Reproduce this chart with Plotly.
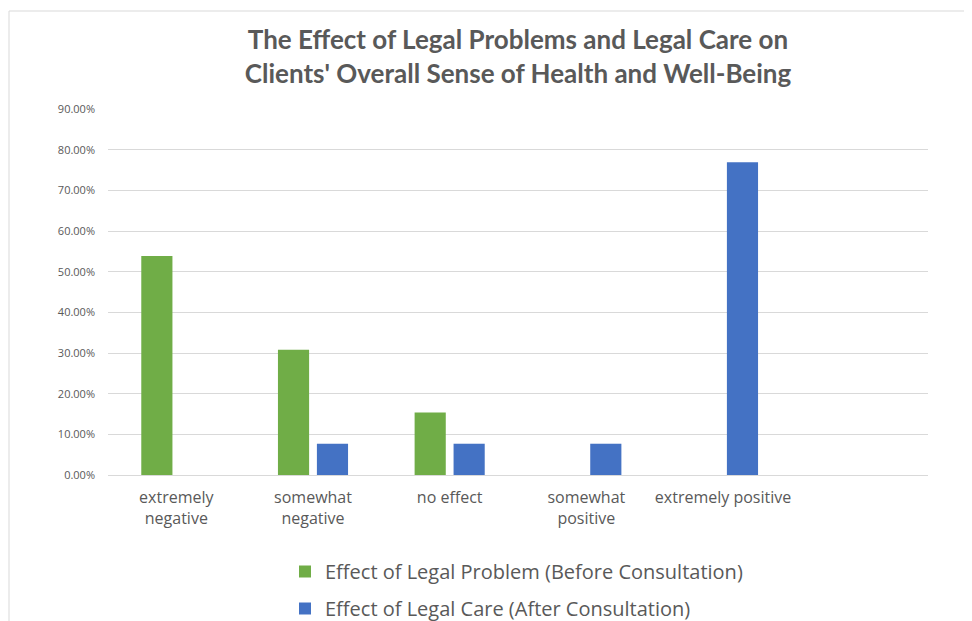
import plotly.graph_objects as go

categories = ["extremely<br>negative", "somewhat<br>negative", "no effect",
              "somewhat<br>positive", "extremely positive", ""]
before_vals = [0.5385, 0.3077, 0.1538, 0.0, 0.0, None]
after_vals = [0.0, 0.0769, 0.0769, 0.0769, 0.7692, None]
series_names = ["Effect of Legal Problem (Before Consultation)",
                "Effect of Legal Care (After Consultation)"]
y_ticks = [0, 0.1, 0.2, 0.3, 0.4, 0.5, 0.6, 0.7, 0.8, 0.9]
y_ticktext = ["0.00%", "10.00%", "20.00%", "30.00%", "40.00%", "50.00%",
              "60.00%", "70.00%", "80.00%", "90.00%"]

xs = list(range(len(categories)))
grey = "#595959"

# the page body has an 8px default margin, so the figure is 8px smaller
W, H = 964, 613

fig = go.Figure()
fig.add_trace(go.Bar(x=xs, y=before_vals, name=series_names[0],
                     marker=dict(color="#70AD47", line=dict(width=0)),
                     legendgroup="a"))
fig.add_trace(go.Bar(x=xs, y=after_vals, name=series_names[1],
                     marker=dict(color="#4472C4", line=dict(width=0)),
                     legendgroup="b"))

fig.update_layout(
    width=W, height=H,
    margin=dict(l=100, r=44, t=101, b=146, autoexpand=False),
    paper_bgcolor="white", plot_bgcolor="white",
    barmode="group", bargap=0.43, bargroupgap=0.2,
    title=dict(text="The Effect of Legal Problems and Legal Care on<br>Clients' Overall Sense of Health and Well-Being",
               x=0.5, xref="paper", xanchor="center",
               y=1 - 41 / H, yref="container", yanchor="middle",
               font=dict(family="Lato", size=26, color=grey, weight="bold")),
    showlegend=True,
    legend=dict(orientation="v", x=277 / W, xref="container", xanchor="left",
                y=1 - 544 / H, yref="container", yanchor="top",
                font=dict(family="Open Sans", size=20, color=grey),
                tracegroupgap=8, bgcolor="rgba(0,0,0,0)"),
    font=dict(family="Open Sans", color=grey),
)
fig.update_xaxes(tickmode="array", tickvals=xs, ticktext=categories,
                 range=[-0.5, len(categories) - 0.5],
                 showgrid=False, showline=False, zeroline=False, ticks="",
                 ticklabelstandoff=11, automargin=False,
                 tickfont=dict(family="Open Sans", size=16, color=grey))
fig.update_yaxes(range=[0, 0.9], tickmode="array", tickvals=y_ticks, ticktext=y_ticktext,
                 showgrid=True, gridcolor="#d9d9d9", gridwidth=1,
                 zeroline=True, zerolinecolor="#d9d9d9", zerolinewidth=1,
                 showline=False, ticks="", ticklabelstandoff=12, automargin=False,
                 tickfont=dict(family="Open Sans", size=11, color=grey))

# chart border (outer frame)
fig.add_shape(type="line", xref="paper", yref="paper",
              x0=(9 - 108) / 820, x1=(968 - 108) / 820,
              y0=(475 - 11) / 366, y1=(475 - 11) / 366,
              line=dict(color="#d9d9d9", width=1))
fig.add_shape(type="line", xref="paper", yref="paper",
              x0=(9 - 108) / 820, x1=(9 - 108) / 820,
              y0=(475 - 11) / 366, y1=(475 - 640) / 366,
              line=dict(color="#d9d9d9", width=1))

fig.write_html("out.html")
